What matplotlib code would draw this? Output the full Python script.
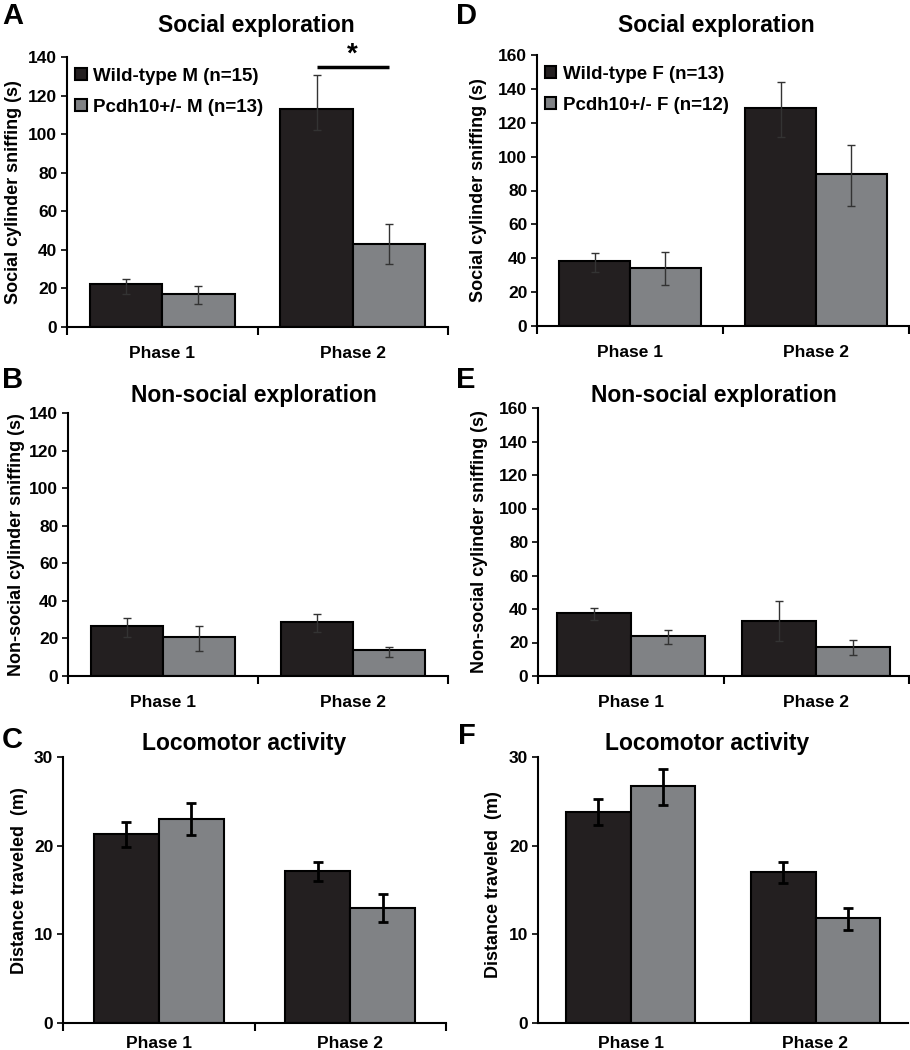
import matplotlib
matplotlib.use("Agg")
import matplotlib.pyplot as plt
import numpy as np

plt.rcParams['font.family'] = ['Liberation Sans', 'DejaVu Sans']
plt.rcParams['font.weight'] = 'bold'

phases = ["Phase 1", "Phase 2"]
groups_M = ["Wild-type M (n=15)", "Pcdh10+/- M (n=13)"]
groups_F = ["Wild-type F (n=13)", "Pcdh10+/- F (n=12)"]

# Panel A: social exploration, males
A_wt = [22.1, 112.9]; A_wt_lo = [17.3, 102.0]; A_wt_hi = [24.7, 130.5]
A_het = [16.9, 42.9]; A_het_lo = [12.1, 32.5]; A_het_hi = [21.1, 53.2]
# Panel B: non-social exploration, males
B_wt = [26.8, 29.0]; B_wt_lo = [21.0, 23.6]; B_wt_hi = [31.1, 32.9]
B_het = [20.8, 13.7]; B_het_lo = [13.3, 9.9]; B_het_hi = [26.8, 15.6]
# Panel C: locomotor activity, males
C_wt = [21.3, 17.1]; C_wt_lo = [19.9, 16.05]; C_wt_hi = [22.7, 18.2]
C_het = [23.0, 13.0]; C_het_lo = [21.2, 11.4]; C_het_hi = [24.8, 14.5]
# Panel D: social exploration, females
D_wt = [38.4, 128.5]; D_wt_lo = [32.1, 111.8]; D_wt_hi = [43.3, 144.3]
D_het = [34.4, 89.5]; D_het_lo = [24.0, 70.9]; D_het_hi = [43.7, 106.9]
# Panel E: non-social exploration, females
E_wt = [37.7, 32.9]; E_wt_lo = [33.7, 20.7]; E_wt_hi = [40.7, 44.5]
E_het = [23.7, 17.6]; E_het_lo = [19.4, 12.8]; E_het_hi = [27.3, 21.7]
# Panel F: locomotor activity, females
F_wt = [23.8, 17.0]; F_wt_lo = [22.3, 15.8]; F_wt_hi = [25.3, 18.2]
F_het = [26.7, 11.8]; F_het_lo = [24.6, 10.5]; F_het_hi = [28.7, 13.0]

yticks_M = [0, 20, 40, 60, 80, 100, 120, 140]
yticks_F = [0, 20, 40, 60, 80, 100, 120, 140, 160]
yticks_loco = [0, 10, 20, 30]

DARK = '#231f20'
GRAY = '#808285'

W, H = 910, 1050
fig = plt.figure(figsize=(W / 100, H / 100), dpi=100)


def px_axes(l, r, t, b):
    return fig.add_axes([l / W, 1 - b / H, (r - l) / W, (b - t) / H])


def panel(ax, wt, wt_lo, wt_hi, het, het_lo, het_hi, yticks, ylabel, title,
          title_x, title_pad, width, thick_err, xticks_on=True, xlabel_pad=14,
          ylabel_x=-0.14, ylabel_y=0.5, legend_labels=None):
    x = np.arange(len(phases))
    wt = np.array(wt); het = np.array(het)
    err_wt = [wt - np.array(wt_lo), np.array(wt_hi) - wt]
    err_het = [het - np.array(het_lo), np.array(het_hi) - het]
    if thick_err:
        ekw = dict(ecolor='black', elinewidth=2.0, capsize=3.5, capthick=2.0)
    else:
        ekw = dict(ecolor='#333333', elinewidth=1.0, capsize=3, capthick=1.0)
    b1 = ax.bar(x - width / 2, wt, width, color=DARK, edgecolor='black',
                linewidth=1.5, yerr=err_wt, error_kw=ekw, zorder=2)
    b2 = ax.bar(x + width / 2, het, width, color=GRAY, edgecolor='black',
                linewidth=1.5, yerr=err_het, error_kw=ekw, zorder=2)
    ax.set_xlim(-0.5, 1.5)
    ax.set_ylim(0, yticks[-1])
    ax.set_yticks(yticks)
    ax.set_yticklabels([str(t) for t in yticks], fontsize=12.5,
                       fontweight='bold')
    ax.set_xticks(x)
    ax.set_xticklabels(phases, fontsize=12.5, fontweight='bold')
    ax.tick_params(axis='x', which='major', length=0, pad=xlabel_pad)
    if xticks_on:
        ax.set_xticks([-0.5, 0.5, 1.5], minor=True)
        ax.tick_params(axis='x', which='minor', length=6, width=1.5,
                       direction='out')
    ax.tick_params(axis='y', length=4, width=1.2, direction='out', pad=3)
    for s in ['top', 'right']:
        ax.spines[s].set_visible(False)
    for s in ['left', 'bottom']:
        ax.spines[s].set_linewidth(1.5)
    ax.set_ylabel(ylabel, fontsize=13, fontweight='bold')
    ax.yaxis.set_label_coords(ylabel_x, ylabel_y)
    ax.set_title(title, fontsize=16.5, fontweight='bold', x=title_x,
                 pad=title_pad)
    if legend_labels is not None:
        ax.legend([b1, b2], legend_labels, loc='upper left',
                  bbox_to_anchor=(0.022, 0.96), frameon=False,
                  prop={'weight': 'bold', 'size': 13.5},
                  handlelength=0.6, handleheight=0.6, handletextpad=0.35,
                  labelspacing=0.75, borderpad=0, borderaxespad=0)
    return b1, b2


axA = px_axes(67, 448, 57, 327)
panel(axA, A_wt, A_wt_lo, A_wt_hi, A_het, A_het_lo, A_het_hi, yticks_M,
      'Social cylinder sniffing (s)', 'Social exploration', 0.496, 18, 0.38,
      False, ylabel_x=-0.118, legend_labels=groups_M)
# significance bar
axA.plot([1 - 0.19, 1 + 0.19], [135, 135], color='black', lw=2.5,
         clip_on=False, solid_capstyle='butt')
axA.text(1.0, 134.5, '*', ha='center', va='bottom', fontsize=20,
         fontweight='bold', clip_on=False)

axD = px_axes(537, 909, 55, 326)
panel(axD, D_wt, D_wt_lo, D_wt_hi, D_het, D_het_lo, D_het_hi, yticks_F,
      'Social cylinder sniffing (s)', 'Social exploration', 0.481, 16.5, 0.38,
      False, ylabel_x=-0.134, legend_labels=groups_F)

axB = px_axes(68, 448, 413, 676)
panel(axB, B_wt, B_wt_lo, B_wt_hi, B_het, B_het_lo, B_het_hi, yticks_M,
      'Non-social cylinder sniffing (s)', 'Non-social exploration', 0.488, 8,
      0.38, False, ylabel_x=-0.113)

axE = px_axes(538, 909, 408, 676)
panel(axE, E_wt, E_wt_lo, E_wt_hi, E_het, E_het_lo, E_het_hi, yticks_F,
      'Non-social cylinder sniffing (s)', 'Non-social exploration', 0.473, 4,
      0.40, False, ylabel_x=-0.135)

axC = px_axes(63, 446, 757, 1023)
panel(axC, C_wt, C_wt_lo, C_wt_hi, C_het, C_het_lo, C_het_hi, yticks_loco,
      'Distance traveled  (m)', 'Locomotor activity', 0.473, 5, 0.34, True,
      xlabel_pad=9, ylabel_x=-0.091, ylabel_y=0.534)

axF = px_axes(538, 908, 757, 1023)
panel(axF, F_wt, F_wt_lo, F_wt_hi, F_het, F_het_lo, F_het_hi, yticks_loco,
      'Distance traveled  (m)', 'Locomotor activity', 0.457, 5, 0.35, True,
      xticks_on=False, xlabel_pad=9, ylabel_x=-0.097, ylabel_y=0.52)

for letter, (px, py) in {'A': (2, 2), 'D': (456, 2), 'B': (2, 366),
                         'E': (456, 366), 'C': (2, 726), 'F': (458, 722)}.items():
    fig.text(px / W, 1 - py / H, letter, fontsize=21, fontweight='bold',
             ha='left', va='top')

fig.savefig('out.png', dpi=100)
